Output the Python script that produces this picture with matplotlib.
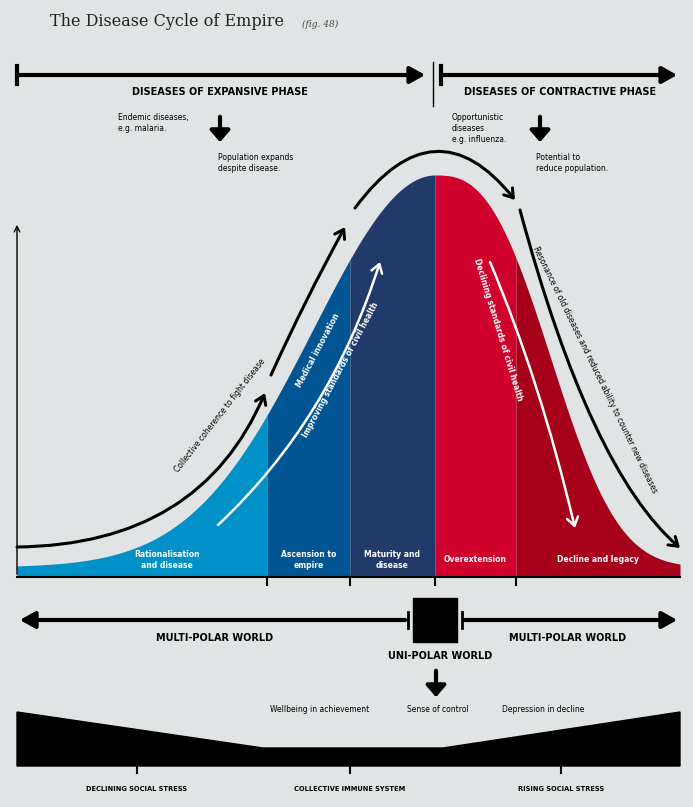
import numpy as np
import matplotlib.pyplot as plt
from matplotlib.patches import FancyArrowPatch, Polygon, Rectangle
from matplotlib.path import Path

BG = '#e1e4e5'
# segments of the cycle (pixel x boundaries) and their colours
seg_edges = [17, 267, 350, 435, 516, 680]
seg_colors = ['#0091c9', '#005592', '#213a69', '#d0002d', '#a6001a']
seg_labels = ['Rationalisation\nand disease', 'Ascension to\nempire',
              'Maturity and\ndisease', 'Overextension', 'Decline and legacy']
peak_x, peak_y, base_y = 435, 175, 577
left_sigma, right_scale, right_power, floor = 122, 137, 2.73, 10

def curve(x):
    dx = x - peak_x
    g = np.where(dx < 0, np.exp(-dx**2 / (2 * left_sigma**2)),
                 np.exp(-np.abs(dx / right_scale) ** right_power))
    return base_y - floor - (base_y - peak_y - floor) * g

fig = plt.figure(figsize=(6.93, 8.07), dpi=100, facecolor=BG)
ax = fig.add_axes([0, 0, 1, 1])
ax.set_xlim(0, 693); ax.set_ylim(807, 0); ax.axis('off')
ax.set_facecolor(BG)

for i in range(5):
    xs = np.linspace(seg_edges[i], seg_edges[i + 1], 120)
    ys = curve(xs)
    ax.fill_between(xs, ys, base_y, color=seg_colors[i], lw=0)
    cx = (seg_edges[i] + seg_edges[i + 1]) / 2 + (25 if i == 0 else 0)
    ax.text(cx, 560, seg_labels[i], color='white', fontsize=5.5, ha='center',
            va='center', fontweight='bold', linespacing=1.2)

# axes
ax.plot([17, 680], [base_y, base_y], color='black', lw=1.5)
for x in seg_edges[1:-1]:
    ax.plot([x, x], [base_y, 585], color='black', lw=1.5)
ax.annotate('', xy=(17, 222), xytext=(17, base_y),
            arrowprops=dict(arrowstyle='->', lw=1, color='black'))

def bez(p0, p1, p2, color, lw=2.2):
    path = Path([p0, p1, p2], [Path.MOVETO, Path.CURVE3, Path.CURVE3])
    ax.add_patch(FancyArrowPatch(path=path, arrowstyle='->,head_length=6,head_width=4',
                                 color=color, lw=lw))

bez((17, 547), (200, 545), (265, 393), 'black')
bez((271, 375), (305, 300), (345, 227), 'black')
bez((355, 208), (435, 100), (515, 200), 'black')
bez((520, 210), (590, 470), (680, 548), 'black')
bez((218, 525), (330, 420), (380, 262), 'white', 1.8)
bez((490, 262), (540, 380), (575, 528), 'white', 1.8)

ax.text(220, 415, 'Collective coherence to fight disease', fontsize=5.5,
        rotation=52, ha='center', va='center')
ax.text(318, 350, 'Medical innovation', fontsize=5.5, color='white',
        fontweight='bold', rotation=62, ha='center', va='center')
ax.text(341, 370, 'Improving standards of civil health', fontsize=5.5, color='white',
        fontweight='bold', rotation=62, ha='center', va='center')
ax.text(498, 330, 'Declining standards of civil health', fontsize=5.5, color='white',
        fontweight='bold', rotation=-73, ha='center', va='center')
ax.text(595, 370, 'Resonance of old diseases and reduced ability to counter new diseases',
        fontsize=5.5, rotation=-64, ha='center', va='center')

# title
ax.text(50, 22, 'The Disease Cycle of Empire', fontsize=11.5, family='DejaVu Serif',
        va='center', color='#222222')
ax.text(302, 24, '(fig. 48)', fontsize=6.5, family='DejaVu Serif', style='italic',
        va='center', color='#444444')

# top phase bars
arrow_kw = dict(arrowstyle='-|>,head_length=0.9,head_width=0.5', lw=3, color='black')
ax.annotate('', xy=(428, 75), xytext=(17, 75), arrowprops=arrow_kw)
ax.annotate('', xy=(680, 75), xytext=(441, 75), arrowprops=arrow_kw)
ax.plot([17, 17], [66, 84], color='black', lw=3)
ax.plot([441, 441], [66, 84], color='black', lw=3)
ax.plot([433, 433], [62, 106], color='black', lw=1)
ax.text(220, 92, 'DISEASES OF EXPANSIVE PHASE', fontsize=7, fontweight='bold',
        ha='center', va='center')
ax.text(560, 92, 'DISEASES OF CONTRACTIVE PHASE', fontsize=7, fontweight='bold',
        ha='center', va='center')

small = dict(fontsize=5.5, va='top', linespacing=1.3)
ax.text(118, 113, 'Endemic diseases,\ne.g. malaria.', **small)
ax.text(218, 153, 'Population expands\ndespite disease.', **small)
ax.text(452, 113, 'Opportunistic\ndiseases\ne.g. influenza.', **small)
ax.text(536, 153, 'Potential to\nreduce population.', **small)
down_kw = dict(arrowstyle='-|>,head_length=0.7,head_width=0.6', lw=3, color='black')
for x in [220, 540]:
    ax.annotate('', xy=(x, 145), xytext=(x, 114), arrowprops=down_kw)

# polar world bar
ax.annotate('', xy=(17, 620), xytext=(408, 620), arrowprops=arrow_kw)
ax.annotate('', xy=(680, 620), xytext=(462, 620), arrowprops=arrow_kw)
ax.plot([408, 408], [612, 628], color='black', lw=2)
ax.plot([462, 462], [612, 628], color='black', lw=2)
ax.add_patch(Rectangle((413, 598), 44, 44, color='black'))
ax.text(215, 638, 'MULTI-POLAR WORLD', fontsize=7, fontweight='bold', ha='center', va='center')
ax.text(568, 638, 'MULTI-POLAR WORLD', fontsize=7, fontweight='bold', ha='center', va='center')
ax.text(440, 656, 'UNI-POLAR WORLD', fontsize=7, fontweight='bold', ha='center', va='center')
ax.annotate('', xy=(436, 700), xytext=(436, 668), arrowprops=down_kw)

ax.text(320, 710, 'Wellbeing in achievement', fontsize=5.5, ha='center', va='center')
ax.text(438, 710, 'Sense of control', fontsize=5.5, ha='center', va='center')
ax.text(543, 710, 'Depression in decline', fontsize=5.5, ha='center', va='center')

# social stress wedge
ax.add_patch(Polygon([(17, 712), (263, 748), (443, 748), (680, 712), (680, 766), (17, 766)],
                     closed=True, color='black'))
for x, lab in [(137, 'DECLINING SOCIAL STRESS'), (350, 'COLLECTIVE IMMUNE SYSTEM'),
               (561, 'RISING SOCIAL STRESS')]:
    ax.plot([x, x], [766, 773], color='black', lw=1.5)
    ax.text(x, 789, lab, fontsize=4.8, fontweight='bold', ha='center', va='center')

fig.savefig('out.png', dpi=100, facecolor=BG)
